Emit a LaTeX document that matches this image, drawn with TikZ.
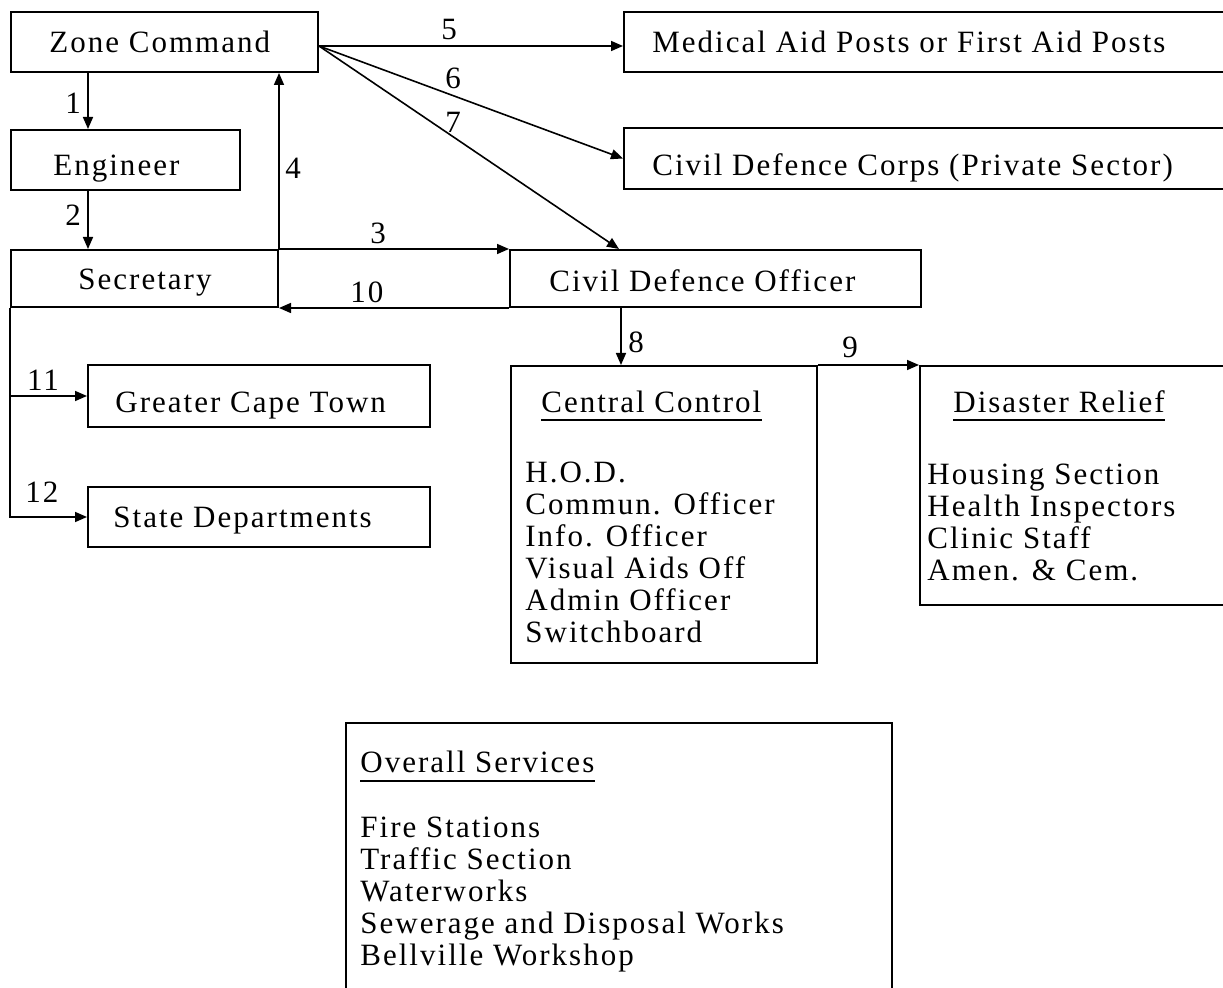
\documentclass[tikz,border=0pt]{standalone}
\usepackage{fontspec}
\setmainfont{Liberation Serif}[LetterSpace=6.5]
\usetikzlibrary{arrows.meta,fit,calc}
\newcommand{\chartfont}{\fontsize{15.5pt}{16pt}\selectfont}

\begin{document}
\begin{tikzpicture}[x=0.5pt,y=-0.5pt,
  box/.style={draw, line width=1pt, inner sep=0pt, rectangle},
  txt/.style={inner sep=0pt, anchor=base west, font=\chartfont},
  lab/.style={inner sep=0pt, font=\chartfont},
  arr/.style={-{Triangle[length=6pt,width=5pt]}, line width=0.8pt},
  uline/.style={line width=1pt}]

\useasboundingbox (0,0) rectangle (1223,988);
\fill[white] (0,0) rectangle (1223,988);
\clip (0,0) rectangle (1223,988);

% boxes (the ones on the right and at the bottom run off the sheet)
\node[box, fit={(11,12) (318,72)}] (zone) {};
\node[box, fit={(11,130) (240,190)}] (engineer) {};
\node[box, fit={(11,250) (278,307)}] (secretary) {};
\node[box, fit={(510,250) (921,307)}] (cdo) {};
\node[box, fit={(624,12) (1260,72)}] (medical) {};
\node[box, fit={(624,128) (1260,189)}] (cdc) {};
\node[box, fit={(88,365) (430,427)}] (gct) {};
\node[box, fit={(88,487) (430,547)}] (state) {};
\node[box, fit={(511,366) (817,663)}] (cc) {};
\node[box, fit={(920,366) (1260,605)}] (dr) {};
\node[box, fit={(346,723) (892,1020)}] (overall) {};

% box texts
\node[txt] (zoneT) at (49,53) {Zone Command};
\node[txt] (engT) at (53,176) {Engineer};
\node[txt] (secT) at (78,290) {Secretary};
\node[txt] (cdoT) at (549,292) {Civil Defence Officer};
\node[txt] (medT) at (652,53) {Medical Aid Posts or First Aid Posts};
\node[txt] (cdcT) at (652,176) {Civil Defence Corps (Private Sector)};
\node[txt] (gctT) at (115,413) {Greater Cape Town};
\node[txt] (stateT) at (113,528) {State Departments};

\node[txt] (ccT) at (541,413) {Central Control};
\draw[uline] ([yshift=-3.5pt]ccT.base west) -- ([yshift=-3.5pt]ccT.base east);
\foreach \t [count=\i] in {H.O.D., Commun. Officer, Info. Officer,
    Visual Aids Off, Admin Officer, Switchboard}
  \node[txt] (cc\i) at (525,{451+32*\i}) {\t};

\node[txt] (drT) at (953,413) {Disaster Relief};
\draw[uline] ([yshift=-3.5pt]drT.base west) -- ([yshift=-3.5pt]drT.base east);
\foreach \t [count=\i] in {Housing Section, Health Inspectors, Clinic Staff,
    Amen. \& Cem.}
  \node[txt] (dr\i) at (927,{453+32*\i}) {\t};

\node[txt] (ovT) at (360,773) {Overall Services};
\draw[uline] ([yshift=-4pt]ovT.base west) -- ([yshift=-4pt]ovT.base east);
\foreach \t [count=\i] in {Fire Stations, Traffic Section, Waterworks,
    Sewerage and Disposal Works, Bellville Workshop}
  \node[txt] (ov\i) at (360,{806+32*\i}) {\t};

% connectors
\coordinate (zoneOut) at ($(zone.east)+(0,4)$);
\draw[arr] ($(zone.south west)+(78,0)$) -- ($(engineer.north west)+(78,0)$);
\draw[arr] ($(engineer.south west)+(78,0)$) -- ($(secretary.north west)+(78,0)$);
\draw[arr] (secretary.north east) -- (cdo.north west);
\draw[arr] (secretary.north east) -- (secretary.north east |- zone.south);
\draw[arr] (zoneOut) -- (zoneOut -| medical.west);
\draw[arr] (zoneOut) -- (cdc.west);
\draw[arr] (zoneOut) -- ($(cdo.north west)+(110,0)$);
\draw[arr] ($(cdo.south west)+(112,0)$) -- ($(cc.north west)+(111,0)$);
\draw[arr] (cc.north east) -- (dr.north west);
\draw[arr] (cdo.south west) -- (secretary.south east);
\draw[arr] (secretary.south west |- gct.west) -- (gct.west);
\draw[arr] (secretary.south west) |- (state.west);

% connector numbers
\node[lab] (n1) at (73,103) {1};
\node[lab] (n2) at (73,215) {2};
\node[lab] (n3) at (378,233) {3};
\node[lab] (n4) at (293,168) {4};
\node[lab] (n5) at (449,30) {5};
\node[lab] (n6) at (453,78) {6};
\node[lab] (n7) at (453,122) {7};
\node[lab] (n8) at (636,342) {8};
\node[lab] (n9) at (850,347) {9};
\node[lab] (n10) at (367,292) {10};
\node[lab] (n11) at (43,380) {11};
\node[lab] (n12) at (42,492) {12};

\end{tikzpicture}
\end{document}
